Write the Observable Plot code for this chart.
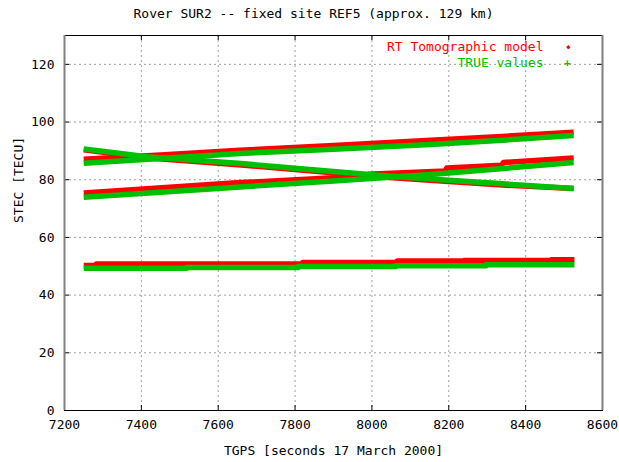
<!DOCTYPE html>
<html>
<head>
<meta charset="utf-8">
<script src="https://cdn.jsdelivr.net/npm/d3@7"></script>
<script src="https://cdn.jsdelivr.net/npm/@observablehq/plot@0.6"></script>
<style>
  html, body { margin: 0; padding: 0; background: #fff; }
  #title { width: 619px; height: 26px; line-height: 28px; text-align: center; font-family: "DejaVu Sans Mono", monospace; font-size: 13px; color: #000; padding-left: 8px; box-sizing: border-box; }
</style>
</head>
<body>
<div id="title"></div>
<div id="chart"></div>
<script>
const titleText = "Rover SUR2 -- fixed site REF5 (approx. 129 km)";
const xLabel = "TGPS [seconds 17 March 2000]";
const yLabel = "STEC [TECU]";
const seriesNames = ["RT Tomographic model", "TRUE values"];
const xTicks = [7200, 7400, 7600, 7800, 8000, 8200, 8400, 8600];
const yTicks = [0, 20, 40, 60, 80, 100, 120];
const xDomain = [7200, 8600];
const yDomain = [0, 130];

// Descending track
const descT    = [7250, 7420, 7660, 7800, 8000, 8160, 8350, 8525];
const descTrue = [90.7, 87.9, 85.6, 84.0, 81.7, 80.2, 78.5, 77.0];
const descRT   = [90.4, 87.5, 85.1, 83.5, 81.2, 79.7, 78.1, 77.0];

// Upper ascending track
const upT    = [7250, 7450, 7657, 7900, 8153, 8350, 8525];
const upTrue = [85.7, 87.4, 89.1, 90.6, 92.2, 93.8, 95.3];
const upRT   = [87.1, 88.6, 90.2, 91.9, 93.7, 95.1, 96.5];

// Lower ascending track
const loT    = [7250, 7450, 7657, 7900, 8153, 8350, 8525];
const loTrue = [73.9, 75.7, 77.5, 79.6, 81.8, 84.0, 86.0];
const loRT_T = [7250, 7657, 7988, 7990, 8190, 8195, 8338, 8342, 8525];
const loRT   = [75.4, 79.0, 81.3, 81.9, 83.0, 84.1, 85.0, 86.0, 87.5];

// Bottom (nearly flat) track, stepwise
const botTrueT = [7250, 7518, 7808, 8062, 8297, 8527];
const botTrue  = [49.3, 49.6, 49.9, 50.2, 50.5, 50.5];
const botRT_T  = [7250, 7283, 7820, 8066, 8240, 8467, 8527];
const botRT    = [50.3, 50.8, 51.3, 51.8, 52.0, 52.3, 52.3];

const RED = "#ff0000", GREEN = "#00c000";
const zip = (T, V) => T.map((t, i) => ({t, v: V[i]}));

document.getElementById("title").textContent = titleText;

const W = 619, H = 436, mL = 64, mR = 17, mT = 9, mB = 52;
const plotW = W - mL - mR, plotH = H - mT - mB;

const lineOpts = (stroke, curve) => ({x: "t", y: "v", stroke, strokeWidth: 5.5, curve: curve || "linear", strokeLinecap: "butt"});

const chart = Plot.plot({
  width: W, height: H,
  marginLeft: mL, marginRight: mR, marginTop: mT, marginBottom: mB,
  style: {fontFamily: "DejaVu Sans Mono, monospace", fontSize: "13px", color: "#000", background: "#fff"},
  x: {domain: xDomain, ticks: xTicks, tickFormat: d => String(d)},
  y: {domain: yDomain, ticks: yTicks, tickFormat: d => String(d)},
  marks: [
    Plot.gridX(xTicks.slice(1, -1), {stroke: "#a0a0a0", strokeOpacity: 1, strokeDasharray: "2,3"}),
    Plot.gridY(yTicks.slice(1), {stroke: "#a0a0a0", strokeOpacity: 1, strokeDasharray: "2,3"}),
    Plot.axisX(xTicks, {tickSize: 0, tickPadding: 9, label: null, tickFormat: d => String(d)}),
    Plot.axisY(yTicks, {tickSize: 0, tickPadding: 10, label: null, tickFormat: d => String(d)}),
    // RT model (red) first, TRUE (green) on top
    Plot.line(zip(descT, descRT), lineOpts(RED)),
    Plot.line(zip(upT, upRT), lineOpts(RED)),
    Plot.line(zip(loRT_T, loRT), lineOpts(RED)),
    Plot.line(zip(botRT_T, botRT), lineOpts(RED, "step-after")),
    Plot.line(zip(descT, descTrue), lineOpts(GREEN)),
    Plot.line(zip(upT, upTrue), lineOpts(GREEN)),
    Plot.line(zip(loT, loTrue), lineOpts(GREEN)),
    Plot.line(zip(botTrueT, botTrue), lineOpts(GREEN, "step-after")),
    // inward ticks, mirrored
    Plot.tickY(yTicks, {y: d => d, stroke: "#000", insetRight: plotW - 5}),
    Plot.tickY(yTicks, {y: d => d, stroke: "#000", insetLeft: plotW - 5}),
    Plot.tickX(xTicks, {x: d => d, stroke: "#000", insetTop: plotH - 5}),
    Plot.tickX(xTicks, {x: d => d, stroke: "#000", insetBottom: plotH - 5}),
    Plot.frame({stroke: "#000"}),
    Plot.ruleX(xDomain, {stroke: "#808080", strokeWidth: 2}),
    // axis labels
    Plot.text([xLabel], {text: d => d, frameAnchor: "bottom", lineAnchor: "middle", dy: 40, fontSize: 13}),
    Plot.text([yLabel], {text: d => d, frameAnchor: "left", lineAnchor: "middle", dx: -46, rotate: -90, fontSize: 13}),
    // legend
    Plot.text([seriesNames[0]], {text: d => d, frameAnchor: "top-right", lineAnchor: "middle", dx: -59, dy: 11, textAnchor: "end", fill: RED, fontSize: 13}),
    Plot.text(["◆"], {text: d => d, frameAnchor: "top-right", lineAnchor: "middle", dx: -32, dy: 11, fill: RED, fontSize: 7}),
    Plot.text([seriesNames[1]], {text: d => d, frameAnchor: "top-right", lineAnchor: "middle", dx: -59, dy: 27, textAnchor: "end", fill: GREEN, fontSize: 13}),
    Plot.text(["+"], {text: d => d, frameAnchor: "top-right", lineAnchor: "middle", dx: -32, dy: 27, fill: GREEN, fontSize: 11, fontWeight: "bold"})
  ]
});
document.getElementById("chart").appendChild(chart);
</script>
</body>
</html>
